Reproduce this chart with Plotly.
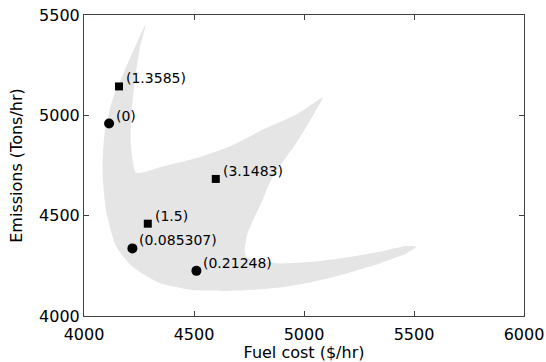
import plotly.graph_objects as go

# Feasible region outline (Fuel cost $/hr, Emissions Tons/hr)
region_x = [4280, 4253, 4230, 4215, 4212, 4215, 4238,
            4359, 4511, 4662, 4814, 4965, 5085,
            5056, 4965, 4889, 4844, 4812, 4776, 4744, 4730, 4739,
            4800, 4889, 5039, 5193, 5344, 5465, 5511,
            5465, 5344, 5193, 5039, 4889, 4753, 4647, 4494, 4344, 4221, 4147, 4102, 4086, 4084,
            4094, 4130, 4193, 4280]
region_y = [5453, 5329, 5163, 4995, 4879, 4829, 4714,
            4745, 4787, 4845, 4929, 5004, 5088,
            5028, 4862, 4745, 4664, 4579, 4495, 4414, 4329, 4294,
            4275, 4262, 4270, 4292, 4320, 4349, 4346,
            4312, 4262, 4212, 4170, 4142, 4129, 4125, 4129, 4164, 4245, 4345, 4514, 4679, 4745,
            4914, 5079, 5245, 5453]

# Circle-marked solutions
circ_x = [4114, 4220, 4511]
circ_y = [4959, 4337, 4225]
circ_labels = ["(0)", "(0.085307)", "(0.21248)"]

# Square-marked solutions
sq_x = [4159, 4290, 4599]
sq_y = [5144, 4460, 4683]
sq_labels = ["(1.3585)", "(1.5)", "(3.1483)"]

x_ticks = [4000, 4500, 5000, 5500, 6000]
y_ticks = [4000, 4500, 5000, 5500]

FONT = "DejaVu Sans"

fig = go.Figure()
fig.add_trace(go.Scatter(x=region_x, y=region_y, mode="lines", fill="toself",
                         fillcolor="rgb(229,229,229)",
                         line=dict(width=0, color="rgba(0,0,0,0)", shape="spline", smoothing=0.6),
                         hoverinfo="skip", showlegend=False))
fig.add_trace(go.Scatter(x=circ_x, y=circ_y, mode="markers",
                         marker=dict(symbol="circle", size=10, color="black"), showlegend=False))
fig.add_trace(go.Scatter(x=sq_x, y=sq_y, mode="markers",
                         marker=dict(symbol="square", size=8, color="black"), showlegend=False))

for xs, ys, ls in [(circ_x, circ_y, circ_labels), (sq_x, sq_y, sq_labels)]:
    for xv, yv, lab in zip(xs, ys, ls):
        fig.add_annotation(x=xv, y=yv, text=lab, showarrow=False, xanchor="left", yanchor="middle",
                           xshift=5, yshift=8, font=dict(family=FONT, size=14, color="black"))

axis_common = dict(showline=True, mirror="ticks", linecolor="#404040", linewidth=1,
                   ticks="inside", ticklen=5, tickcolor="#404040", showgrid=False, zeroline=False,
                   automargin=False, tickfont=dict(family=FONT, size=16, color="black"))

fig.update_xaxes(range=[4000, 6000], tickvals=x_ticks, ticktext=[str(v) for v in x_ticks],
                 ticklabelstandoff=4,
                 title=dict(text="Fuel cost ($/hr)", font=dict(family=FONT, size=16, color="black"), standoff=2),
                 **axis_common)
fig.update_yaxes(range=[4000, 5500], tickvals=y_ticks, ticktext=[str(v) for v in y_ticks],
                 title=dict(text="Emissions (Tons/hr)", font=dict(family=FONT, size=16, color="black"), standoff=12),
                 **axis_common)

fig.update_layout(width=546, height=362, margin=dict(l=84, r=22, t=15, b=46),
                  plot_bgcolor="white", paper_bgcolor="white")

fig.write_html("out.html")
